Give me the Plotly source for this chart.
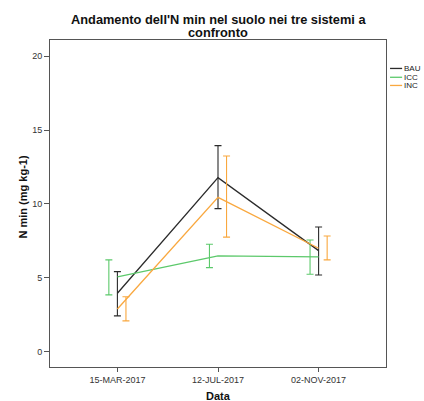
import plotly.graph_objects as go

# ---- data ----
dates = ["15-MAR-2017", "12-JUL-2017", "02-NOV-2017"]
series_names = ["BAU", "ICC", "INC"]

bau_mean = [3.95, 11.78, 6.84]
bau_hi = [5.42, 13.95, 8.44]
bau_lo = [2.42, 9.68, 5.19]

icc_mean = [5.06, 6.48, 6.41]
icc_hi = [6.21, 7.27, 7.56]
icc_lo = [3.84, 5.69, 5.24]

inc_mean = [2.89, 10.45, 7.00]
inc_hi = [3.72, 13.25, 7.83]
inc_lo = [2.08, 7.75, 6.21]

y_ticks = [0, 5, 10, 15, 20]

title_line1 = "Andamento dell'N min nel suolo nei tre sistemi a"
title_line2 = "confronto"
x_title = "Data"
y_title = "N min (mg kg-1)"

# ---- styling ----
colors = ["#2b2b2b", "#5cc96b", "#f9a83f"]
err_offsets = [0.0, -0.085, 0.085]
FONT = "Liberation Sans, Arial, sans-serif"

means = [bau_mean, icc_mean, inc_mean]
his = [bau_hi, icc_hi, inc_hi]
los = [bau_lo, icc_lo, inc_lo]

xpos = list(range(len(dates)))

fig = go.Figure()
for name, m, hi, lo, c, off in zip(series_names, means, his, los, colors, err_offsets):
    fig.add_trace(go.Scatter(
        x=xpos, y=m, mode="lines", name=name,
        line=dict(color=c, width=1.3), showlegend=False, hoverinfo="skip"))
    fig.add_trace(go.Scatter(
        x=[p + off for p in xpos], y=m, mode="markers", name=name,
        marker=dict(size=1, opacity=0, color=c), showlegend=False,
        error_y=dict(type="data", symmetric=False,
                     array=[h - v for h, v in zip(hi, m)],
                     arrayminus=[v - l for v, l in zip(m, lo)],
                     color=c, thickness=1.1, width=3.5)))

# compact legend (paper coords, right of the plot)
leg_y = [0.913, 0.886, 0.861]
for name, c, yy in zip(series_names, colors, leg_y):
    fig.add_shape(type="line", xref="paper", yref="paper",
                  x0=1.012, x1=1.048, y0=yy, y1=yy,
                  line=dict(color=c, width=1.3))
    fig.add_annotation(xref="paper", yref="paper", x=1.049, y=yy,
                       text=name, showarrow=False, xanchor="left", yanchor="middle",
                       font=dict(family=FONT, size=8, color="#222222"))

# titles
fig.add_annotation(xref="paper", yref="paper", x=0.5, y=1.0, yshift=20.5,
                   text="<b>" + title_line1 + "</b>", showarrow=False,
                   xanchor="center", yanchor="middle",
                   font=dict(family=FONT, size=12.8, color="#111111"))
fig.add_annotation(xref="paper", yref="paper", x=0.5, y=1.0, yshift=8,
                   text="<b>" + title_line2 + "</b>", showarrow=False,
                   xanchor="center", yanchor="middle",
                   font=dict(family=FONT, size=12.8, color="#111111"))
fig.add_annotation(xref="paper", yref="paper", x=0.5, y=0.0, yshift=-29,
                   text="<b>" + x_title + "</b>", showarrow=False,
                   xanchor="center", yanchor="middle",
                   font=dict(family=FONT, size=11, color="#111111"))
fig.add_annotation(xref="paper", yref="paper", x=0.0, xshift=-28, y=0.5, yshift=6,
                   text="<b>" + y_title + "</b>", showarrow=False, textangle=-90,
                   xanchor="center", yanchor="middle",
                   font=dict(family=FONT, size=11, color="#111111"))

axis_line = "#555555"
fig.update_layout(
    width=424, height=401,
    margin=dict(l=50, r=38, t=40, b=34),
    paper_bgcolor="white", plot_bgcolor="white",
    font=dict(family=FONT, color="#222222"),
    showlegend=False,
)
fig.update_xaxes(range=[-0.67, 2.67], tickvals=xpos, ticktext=dates, automargin=False,
                 showgrid=False, zeroline=False, showline=True, mirror=True,
                 linecolor=axis_line, linewidth=1, ticks="outside", ticklen=4,
                 tickcolor=axis_line, tickfont=dict(family=FONT, size=9, color="#333333"))
fig.update_yaxes(range=[-1.04, 21.1], tickvals=y_ticks, automargin=False,
                 showgrid=False, zeroline=False, showline=True, mirror=True,
                 linecolor=axis_line, linewidth=1, ticks="outside", ticklen=5,
                 tickcolor=axis_line, tickfont=dict(family=FONT, size=9, color="#333333"))

fig.write_html(
    "out.html",
    config={"displayModeBar": False},
    post_script="document.body.style.margin='0';document.body.style.overflow='hidden';",
)
